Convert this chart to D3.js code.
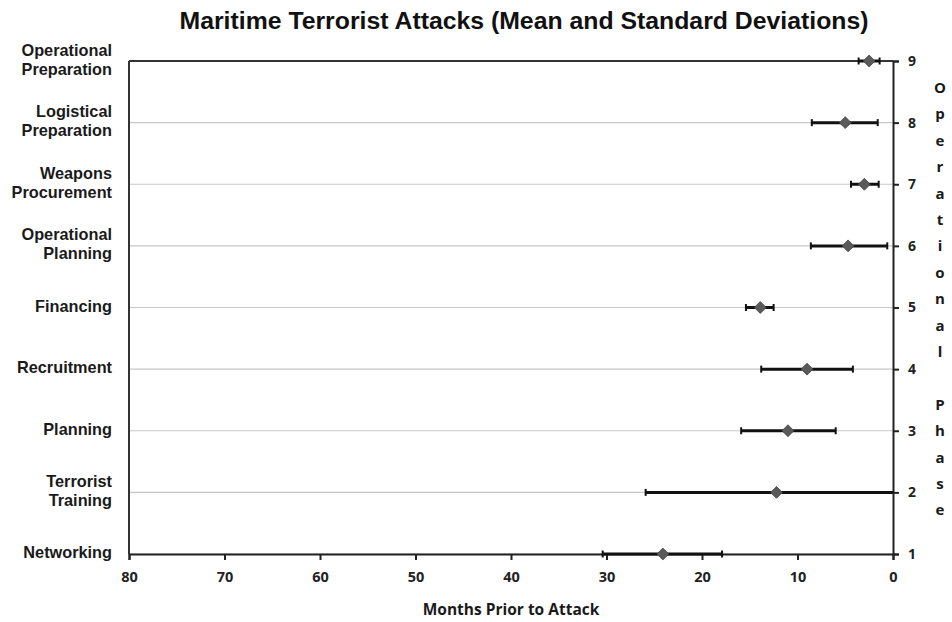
<!DOCTYPE html>
<html>
<head>
<meta charset="utf-8">
<script src="https://cdn.jsdelivr.net/npm/d3@7"></script>
<style>
  html, body { margin: 0; padding: 0; background: #fff; }
  svg { display: block; }
</style>
</head>
<body>
<svg id="chart" width="952" height="622"></svg>
<script>
// Activity stages, listed from the bottom (phase 1) to the top (phase 9)
const activities = [
  ["Networking"],
  ["Terrorist", "Training"],
  ["Planning"],
  ["Recruitment"],
  ["Financing"],
  ["Operational", "Planning"],
  ["Weapons", "Procurement"],
  ["Logistical", "Preparation"],
  ["Operational", "Preparation"]
];
const phases = [1, 2, 3, 4, 5, 6, 7, 8, 9];
// Mean months prior to attack, and the error bar ends (mean ± one standard deviation)
const meanMonths = [24.1, 12.2, 11.0, 9.0, 13.9, 4.7, 3.0, 5.0, 2.5];
const lowMonths  = [17.9, 0.0, 6.0, 4.2, 12.5, 0.6, 1.5, 1.6, 1.4];
const highMonths = [30.4, 25.9, 15.9, 13.8, 15.4, 8.6, 4.4, 8.5, 3.6];
const xTicks = [80, 70, 60, 50, 40, 30, 20, 10, 0];
const rightTitle = "Operational Phase";

const svg = d3.select("#chart");
const plotLeft = 129, plotRight = 893, plotTop = 61, plotBottom = 554;

const x = d3.scaleLinear().domain([80, 0]).range([plotLeft, plotRight]);
const y = d3.scaleLinear().domain([1, 9]).range([plotBottom, plotTop]);

// Title
svg.append("text")
  .attr("x", 524).attr("y", 29)
  .attr("text-anchor", "middle")
  .attr("font-family", "Liberation Sans, Arial, sans-serif")
  .attr("font-weight", "bold")
  .attr("font-size", 24.8)
  .attr("fill", "#111")
  .text("Maritime Terrorist Attacks (Mean and Standard Deviations)");

// Horizontal gridlines at each phase
svg.append("g").selectAll("line")
  .data(phases)
  .join("line")
  .attr("x1", plotLeft).attr("x2", plotRight)
  .attr("y1", d => y(d)).attr("y2", d => y(d))
  .attr("stroke", "#c8c8c8")
  .attr("stroke-width", 1.2);

// Top and left frame lines
svg.append("line")
  .attr("x1", plotLeft).attr("x2", plotRight)
  .attr("y1", plotTop).attr("y2", plotTop)
  .attr("stroke", "#333").attr("stroke-width", 2);
svg.append("line")
  .attr("x1", plotLeft).attr("x2", plotLeft)
  .attr("y1", plotTop).attr("y2", plotBottom)
  .attr("stroke", "#333").attr("stroke-width", 2);

// Bottom axis (months)
const xAxis = svg.append("g")
  .attr("transform", `translate(0,${plotBottom})`)
  .call(d3.axisBottom(x).tickValues(xTicks).tickSize(6).tickPadding(12).tickFormat(d3.format("d")));
xAxis.select(".domain").attr("stroke", "#222").attr("stroke-width", 2);
xAxis.selectAll(".tick line").attr("stroke", "#222").attr("stroke-width", 2);
xAxis.selectAll("text")
  .attr("font-family", "Open Sans, sans-serif")
  .attr("font-weight", "bold")
  .attr("font-size", 14.5)
  .attr("fill", "#222");

// Right axis (operational phase)
const yAxis = svg.append("g")
  .attr("transform", `translate(${plotRight},0)`)
  .call(d3.axisRight(y).tickValues(phases).tickSize(6).tickPadding(9).tickFormat(d3.format("d")));
yAxis.select(".domain").attr("stroke", "#222").attr("stroke-width", 2);
yAxis.selectAll(".tick line").attr("stroke", "#222").attr("stroke-width", 2);
yAxis.selectAll("text")
  .attr("font-family", "Open Sans, sans-serif")
  .attr("font-weight", "bold")
  .attr("font-size", 14)
  .attr("fill", "#222");

// Activity labels on the left
const lineH = 19;
svg.append("g").selectAll("text")
  .data(activities)
  .join("text")
  .attr("text-anchor", "end")
  .attr("font-family", "Liberation Sans, Arial, sans-serif")
  .attr("font-weight", "bold")
  .attr("font-size", 16.3)
  .attr("fill", "#1a1a1a")
  .each(function(lines, i) {
    const cy = y(phases[i]);
    const y0 = cy - (lines.length - 1) * lineH / 2 + 4;
    d3.select(this).selectAll("tspan")
      .data(lines)
      .join("tspan")
      .attr("x", 112)
      .attr("y", (d, j) => y0 + j * lineH)
      .text(d => d);
  });

// Error bars
const bars = svg.append("g");
phases.forEach((p, i) => {
  const yy = y(p);
  bars.append("line")
    .attr("x1", x(highMonths[i])).attr("x2", x(lowMonths[i]))
    .attr("y1", yy).attr("y2", yy)
    .attr("stroke", "#111").attr("stroke-width", 3);
  [highMonths[i], lowMonths[i]].forEach(v => {
    if (v > 0) {
      bars.append("line")
        .attr("x1", x(v)).attr("x2", x(v))
        .attr("y1", yy - 3.5).attr("y2", yy + 3.5)
        .attr("stroke", "#111").attr("stroke-width", 2);
    }
  });
});

// Mean markers (diamonds)
svg.append("g").selectAll("path")
  .data(phases)
  .join("path")
  .attr("transform", (d, i) => `translate(${x(meanMonths[i])},${y(d)})`)
  .attr("d", d3.symbol(d3.symbolDiamond2, 90))
  .attr("fill", "#5a5a5a")
  .attr("stroke", "#444")
  .attr("stroke-width", 0.8);

// X axis title
svg.append("text")
  .attr("x", 511).attr("y", 615)
  .attr("text-anchor", "middle")
  .attr("font-family", "Open Sans, sans-serif")
  .attr("font-weight", "bold")
  .attr("font-size", 15.5)
  .attr("fill", "#1a1a1a")
  .text("Months Prior to Attack");

// Right axis title, one letter per row
const letters = rightTitle.split("");
svg.append("g").selectAll("text")
  .data(letters)
  .join("text")
  .attr("x", 940)
  .attr("y", (d, i) => 93 + i * 26.4)
  .attr("text-anchor", "middle")
  .attr("font-family", "Open Sans, sans-serif")
  .attr("font-weight", "bold")
  .attr("font-size", 15)
  .attr("fill", "#1a1a1a")
  .text(d => d);
</script>
</body>
</html>
